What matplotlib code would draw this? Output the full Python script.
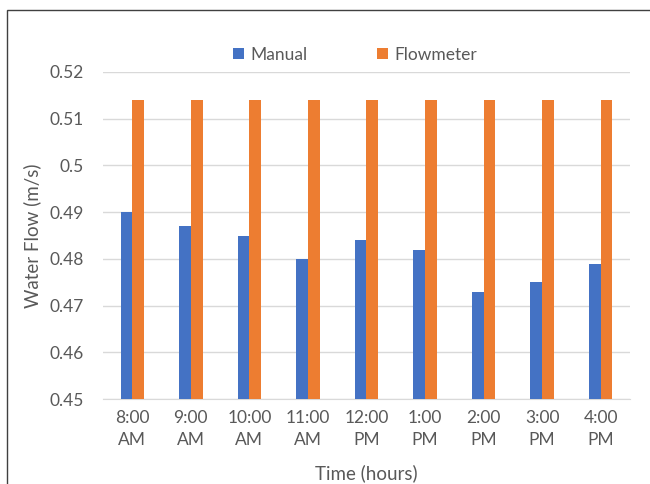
import matplotlib
matplotlib.use("Agg")
import matplotlib.pyplot as plt
import numpy as np
from matplotlib.patches import Rectangle

categories = ["8:00\nAM", "9:00\nAM", "10:00\nAM", "11:00\nAM", "12:00\nPM",
              "1:00\nPM", "2:00\nPM", "3:00\nPM", "4:00\nPM"]
manual = [0.490, 0.487, 0.485, 0.480, 0.484, 0.482, 0.473, 0.475, 0.479]
flowmeter = [0.514] * 9
yticks = [0.45, 0.46, 0.47, 0.48, 0.49, 0.5, 0.51, 0.52]
ytick_labels = ["0.45", "0.46", "0.47", "0.48", "0.49", "0.5", "0.51", "0.52"]

plt.rcParams['font.family'] = ['Lato', 'DejaVu Sans']
txt = '#595959'

fig = plt.figure(figsize=(6.5, 4.84), dpi=100)
fig.patches.append(Rectangle((7/650, -0.1), 2, 1 - 9.5/484 + 0.1, transform=fig.transFigure,
                             fill=False, edgecolor='#404040', linewidth=1.0))
ax = fig.add_axes([103/650, 1 - 399/484, 527/650, 327/484])
x = np.arange(len(categories))
w = 0.2
ax.bar(x - w/2, manual, w, color='#4472C4', label='Manual', zorder=3)
ax.bar(x + w/2, flowmeter, w, color='#ED7D31', label='Flowmeter', zorder=3)
ax.set_ylim(0.45, 0.52)
ax.set_xlim(-0.5, len(categories) - 0.5)
ax.set_yticks(yticks)
ax.set_yticklabels(ytick_labels)
ax.set_xticks(x)
ax.set_xticklabels(categories, linespacing=1.45)
ax.grid(axis='y', color='#D9D9D9', linewidth=1.0, zorder=0)
for s in ['top', 'right', 'left']:
    ax.spines[s].set_visible(False)
ax.spines['bottom'].set_color('#D9D9D9')
ax.tick_params(axis='both', length=0, colors=txt, labelsize=12.5)
ax.tick_params(axis='y', pad=14)
ax.tick_params(axis='x', pad=8)
ax.set_ylabel('Water Flow (m/s)', color=txt, fontsize=13.5, labelpad=6)
ax.set_xlabel('Time (hours)', color=txt, fontsize=13.5, labelpad=12)
leg = ax.legend(loc='center', bbox_to_anchor=(0.479, 1 + 17/327), ncol=2, frameon=False,
                fontsize=12.5, handlelength=0.6, handleheight=0.6, columnspacing=4.0,
                handletextpad=0.4)
for t in leg.get_texts():
    t.set_color(txt)
fig.savefig('out.png', dpi=100)
